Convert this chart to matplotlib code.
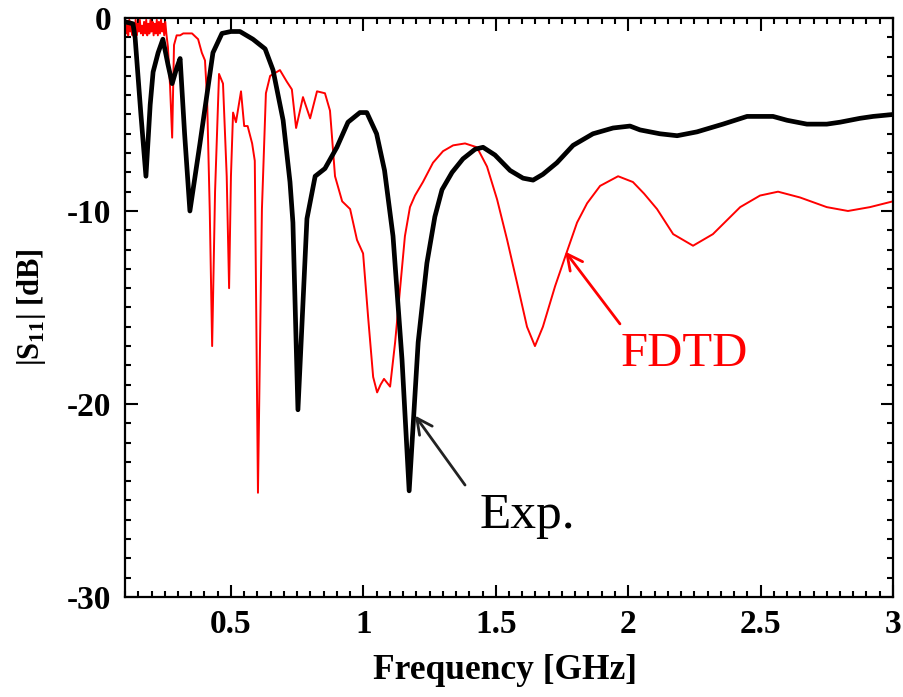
import numpy as np
import matplotlib.pyplot as plt
from matplotlib.ticker import MultipleLocator

plt.rcParams['font.family'] = ['Liberation Serif', 'DejaVu Serif']
plt.rcParams['mathtext.fontset'] = 'custom'
plt.rcParams['mathtext.rm'] = 'Liberation Serif'
plt.rcParams['mathtext.bf'] = 'Liberation Serif:bold'

# measured (Exp.) |S11| in dB
exp_freq = [0.100, 0.130, 0.138, 0.160, 0.179, 0.195, 0.206, 0.225, 0.243, 0.262, 0.278,
            0.295, 0.308, 0.325, 0.345, 0.383, 0.432, 0.466, 0.500, 0.534, 0.583, 0.629,
            0.659, 0.697, 0.723, 0.734, 0.753, 0.787, 0.818, 0.855, 0.900, 0.942, 0.987,
            1.013, 1.050, 1.080, 1.112, 1.146, 1.173, 1.207, 1.240, 1.270, 1.297, 1.335,
            1.376, 1.422, 1.452, 1.497, 1.554, 1.603, 1.641, 1.678, 1.731, 1.792, 1.867,
            1.943, 2.007, 2.045, 2.120, 2.185, 2.260, 2.358, 2.449, 2.547, 2.600, 2.675,
            2.750, 2.800, 2.875, 2.925, 3.000]
exp_db = [-0.2, -0.3, -1.0, -5.0, -8.2, -4.5, -2.8, -1.8, -1.1, -2.4, -3.4,
          -2.6, -2.1, -6.0, -10.0, -6.5, -1.8, -0.8, -0.7, -0.7, -1.1, -1.6,
          -2.7, -5.3, -8.5, -10.6, -20.3, -10.4, -8.2, -7.8, -6.7, -5.4, -4.9,
          -4.9, -6.0, -7.9, -11.3, -17.7, -24.5, -16.8, -12.7, -10.3, -8.9, -8.0,
          -7.3, -6.8, -6.7, -7.1, -7.9, -8.3, -8.4, -8.1, -7.5, -6.6, -6.0,
          -5.7, -5.6, -5.8, -6.0, -6.1, -5.9, -5.5, -5.1, -5.1, -5.3, -5.5,
          -5.5, -5.4, -5.2, -5.1, -5.0]

# FDTD |S11| in dB
fdtd_freq = [0.100, 0.104, 0.108, 0.112, 0.116, 0.120, 0.124, 0.128, 0.132, 0.136,
             0.140, 0.144, 0.148, 0.152, 0.156, 0.160, 0.164, 0.168, 0.172, 0.176,
             0.180, 0.184, 0.188, 0.192, 0.196, 0.200, 0.204, 0.208, 0.212, 0.216,
             0.220, 0.224, 0.228, 0.232, 0.236, 0.240, 0.244, 0.248, 0.252, 0.256,
             0.262, 0.270, 0.278, 0.285, 0.295, 0.308, 0.320, 0.353,
             0.376, 0.390, 0.402, 0.410, 0.420, 0.429, 0.440, 0.455, 0.470, 0.484,
             0.493, 0.500, 0.508, 0.519, 0.538, 0.550, 0.563, 0.580, 0.590, 0.602,
             0.617, 0.632, 0.648, 0.685, 0.711, 0.730, 0.746, 0.772, 0.799, 0.825,
             0.855, 0.874, 0.893, 0.920, 0.950, 0.976, 0.999, 1.018, 1.037, 1.052,
             1.065, 1.078, 1.101, 1.120, 1.139, 1.157, 1.176, 1.195, 1.225, 1.263,
             1.301, 1.339, 1.384, 1.429, 1.467, 1.505, 1.543, 1.580, 1.618, 1.648,
             1.678, 1.724, 1.769, 1.807, 1.845, 1.894, 1.962, 2.018, 2.060, 2.109,
             2.170, 2.245, 2.320, 2.423, 2.498, 2.566, 2.649, 2.750, 2.830, 2.913,
             3.000]
fdtd_db = [-0.1, -0.8, -0.3, -0.9, -0.1, -0.7, -0.2, -0.9, -0.4, -0.8,
           -0.1, -0.9, -0.3, -0.7, -0.1, -0.8, -0.4, -0.9, -0.2, -0.8,
           -0.1, -0.9, -0.3, -0.8, -0.1, -0.7, -0.2, -0.9, -0.3, -0.8,
           -0.1, -0.9, -0.2, -0.8, -0.1, -0.7, -0.3, -0.9, -0.2, -0.8,
           -1.5, -3.5, -6.2, -1.4, -0.9, -0.9, -0.8, -0.8,
           -1.1, -1.8, -2.2, -4.2, -10.0, -17.0, -9.0, -2.9, -3.4, -8.2,
           -14.0, -8.2, -4.9, -5.4, -3.8, -5.6, -5.6, -6.5, -7.4, -24.6,
           -9.9, -3.9, -3.0, -2.7, -3.3, -3.7, -5.7, -4.1, -5.2, -3.8,
           -3.9, -4.8, -8.2, -9.5, -9.9, -11.5, -12.2, -15.5, -18.6, -19.4,
           -19.0, -18.7, -19.1, -16.8, -14.0, -11.3, -9.8, -9.2, -8.5, -7.5,
           -6.9, -6.6, -6.5, -6.7, -7.7, -9.4, -11.5, -13.7, -16.0, -17.0,
           -16.0, -13.9, -12.1, -10.6, -9.6, -8.7, -8.2, -8.5, -9.1, -9.9,
           -11.2, -11.8, -11.2, -9.8, -9.2, -9.0, -9.3, -9.8, -10.0, -9.8,
           -9.5]

fig = plt.figure(figsize=(9.04, 6.97), dpi=100)
ax = fig.add_axes([0.1383, 0.1435, 0.8495, 0.8307])

ax.plot(fdtd_freq, fdtd_db, color='#ff0000', lw=1.4, zorder=2)
ax.plot(exp_freq, exp_db, color='black', lw=3.4, zorder=3, solid_joinstyle='round')

ax.set_xlim(0.1, 3.0)
ax.set_ylim(-30, 0)
ax.xaxis.set_minor_locator(MultipleLocator(0.05))
ax.yaxis.set_minor_locator(MultipleLocator(1))
ax.set_xticks([0.5, 1, 1.5, 2, 2.5, 3])
ax.set_xticklabels(['0.5', '1', '1.5', '2', '2.5', '3'])
ax.set_yticks([-30, -20, -10, 0])
ax.set_yticklabels(['-30', '-20', '-10', '0'])

ax.tick_params(which='both', direction='in', top=True, right=True, width=1.5)
ax.tick_params(which='major', length=9, labelsize=24)
ax.tick_params(axis='x', which='major', pad=9)
ax.tick_params(axis='y', which='major', pad=10)
ax.tick_params(which='minor', length=4.5)
for lbl in ax.get_xticklabels() + ax.get_yticklabels():
    lbl.set_fontweight('bold')
for sp in ax.spines.values():
    sp.set_linewidth(1.6)

ax.set_xlabel('Frequency [GHz]', fontsize=25.5, fontweight='bold')
ax.set_ylabel(r'|S$_{\mathbf{11}}$| [dB]', fontsize=22, fontweight='bold')
ax.xaxis.set_label_coords(0.495, -0.098)
ax.yaxis.set_label_coords(-0.100, 0.50)

# labels and their arrows
ax.text(1.62, -25.8, 'Exp.', fontsize=37, ha='center', va='center', color='black')
ax.annotate('', xy=(1.195, -20.6), xytext=(1.384, -24.2),
            arrowprops=dict(arrowstyle='->', color='#222222', lw=2,
                            mutation_scale=28, shrinkA=0, shrinkB=0))
ax.text(2.21, -17.4, 'FDTD', fontsize=35, ha='center', va='center', color='#ff0000')
ax.annotate('', xy=(1.762, -12.1), xytext=(1.969, -15.85),
            arrowprops=dict(arrowstyle='->', color='#ff0000', lw=2,
                            mutation_scale=28, shrinkA=0, shrinkB=0))

fig.savefig('out.png', dpi=100)
